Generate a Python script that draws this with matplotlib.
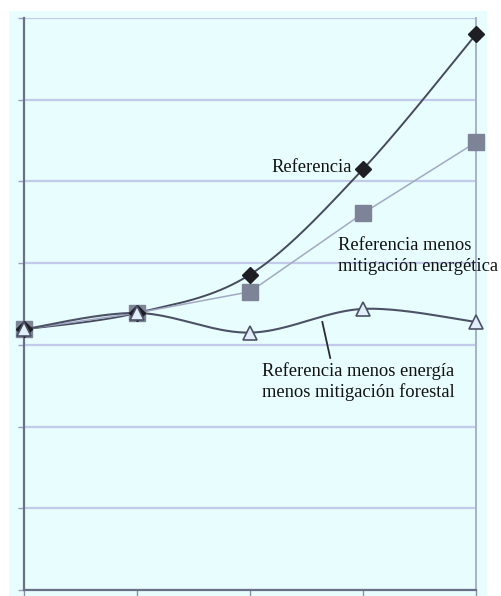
import numpy as np
import matplotlib
matplotlib.use("Agg")
import matplotlib.pyplot as plt
from matplotlib.patches import Rectangle

x_pos = [0, 1, 2, 3, 4]
referencia = [3.19, 3.39, 3.86, 5.15, 6.80]
menos_energia = [3.19, 3.39, 3.65, 4.61, 5.48]
menos_forestal = [3.19, 3.39, 3.15, 3.44, 3.28]

label_ref = "Referencia"
label_en = "Referencia menos\nmitigación energética"
label_for = "Referencia menos energía\nmenos mitigación forestal"


def smooth(xs, ys, n=40):
    # Excel-style smoothed line (Catmull-Rom through the given points)
    xs = np.asarray(xs, float)
    ys = np.asarray(ys, float)
    P = np.column_stack([xs, ys])
    P = np.vstack([P[0], P, P[-1]])
    out = []
    for i in range(1, len(P) - 2):
        p0, p1, p2, p3 = P[i - 1], P[i], P[i + 1], P[i + 2]
        t = np.linspace(0, 1, n)[:, None]
        c = 0.5 * ((2 * p1) + (-p0 + p2) * t + (2 * p0 - 5 * p1 + 4 * p2 - p3) * t ** 2
                   + (-p0 + 3 * p1 - 3 * p2 + p3) * t ** 3)
        out.append(c if i == 1 else c[1:])
    c = np.vstack(out)
    return c[:, 0], c[:, 1]


W, H = 502, 596
fig = plt.figure(figsize=(W / 100, H / 100), dpi=100)
fig.patch.set_facecolor("white")
fig.patches.append(Rectangle((9 / W, 0), (487 - 9) / W, (H - 11) / H,
                             transform=fig.transFigure, facecolor="#e8fdfd",
                             edgecolor="none", zorder=-10))

ax = fig.add_axes([24 / W, (H - 590) / H, (476 - 24) / W, (590 - 18) / H])
ax.set_zorder(1)
ax.set_facecolor("none")
ax.set_xlim(0, 4)
ax.set_ylim(0, 7)
ax.set_xticks(x_pos)
ax.set_yticks(range(0, 8))
ax.set_xticklabels([])
ax.set_yticklabels([])
ax.grid(axis="y", color="#c3cbea", linewidth=1.6)
ax.tick_params(axis="x", direction="out", length=4, width=1, color="#8a90a8")
ax.tick_params(axis="y", direction="out", length=4, width=1, color="#9aa0c0")
for s in ["left", "bottom"]:
    ax.spines[s].set_color("#6a7088")
    ax.spines[s].set_linewidth(1.6)
ax.spines["right"].set_color("#a8b0cc")
ax.spines["right"].set_linewidth(1.4)
ax.spines["top"].set_visible(False)

# Reference line (smoothed)
sx, sy = smooth(x_pos, referencia)
ax.plot(sx, sy, color="#454a5c", linewidth=1.4, zorder=3, clip_on=False)
ax.plot(x_pos, referencia, linestyle="none", marker="D", markersize=8,
        color="#1e1e24", zorder=5, clip_on=False)

# Reference minus energy mitigation
ax.plot(x_pos, menos_energia, color="#a2a9c4", linewidth=1.1, zorder=3,
        marker="s", markersize=11, markerfacecolor="#7e8497",
        markeredgecolor="#7e8497", clip_on=False)

# Reference minus energy minus forestry (smoothed)
sx, sy = smooth(x_pos, menos_forestal)
ax.plot(sx, sy, color="#4c5266", linewidth=1.5, zorder=4, clip_on=False)
ax.plot(x_pos, menos_forestal, linestyle="none", marker="^", markersize=10,
        markerfacecolor="#e2eefa", markeredgecolor="#4c5266",
        markeredgewidth=1.2, zorder=6, clip_on=False)

font = dict(family="Liberation Serif", fontsize=13.3, color="#111111")
ax.text(2.19, 5.17, label_ref, ha="left", va="center", **font)
ax.text(2.775, 4.09, label_en, ha="left", va="center", linespacing=1.33,
        clip_on=False, **font)
ax.text(2.11, 2.55, label_for, ha="left", va="center", linespacing=1.28,
        clip_on=False, **font)
ax.plot([2.64, 2.71], [3.28, 2.84], color="#2a2a30", linewidth=1.3, zorder=4)

fig.savefig("out.png", dpi=100)
